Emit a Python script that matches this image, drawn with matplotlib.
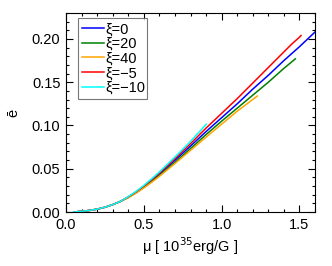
import matplotlib
matplotlib.use("Agg")
import matplotlib.pyplot as plt
from matplotlib.ticker import MultipleLocator, FormatStrFormatter

labels = ["ξ=0", "ξ=20", "ξ=40", "ξ=−5", "ξ=−10"]
colors = ["#0000ff", "#007f00", "#ffa500", "#ff0000", "#00ffff"]

x_low = [0.05, 0.1, 0.15, 0.2, 0.25, 0.3, 0.35]
y_low = [0.0, 0.0008, 0.0018, 0.0033, 0.0055, 0.0085, 0.0123]

x_xi0 = x_low + [0.4, 0.45, 0.5, 0.55, 0.6, 0.7, 0.8, 0.9, 1.0, 1.1, 1.2, 1.3, 1.4, 1.5, 1.6]
y_xi0 = y_low + [0.0172, 0.0228, 0.0293, 0.0363, 0.0438, 0.0598, 0.0762, 0.093, 0.109, 0.125, 0.142, 0.158, 0.175, 0.191, 0.208]

x_xi20 = x_low + [0.4, 0.45, 0.5, 0.55, 0.6, 0.7, 0.8, 0.9, 1.0, 1.1, 1.2, 1.3, 1.4, 1.474]
y_xi20 = y_low + [0.0168, 0.0222, 0.0284, 0.0351, 0.0422, 0.0574, 0.0733, 0.0895, 0.105, 0.120, 0.135, 0.150, 0.166, 0.177]

x_xi40 = x_low + [0.4, 0.45, 0.5, 0.55, 0.6, 0.7, 0.8, 0.9, 1.0, 1.1, 1.229]
y_xi40 = y_low + [0.0165, 0.0218, 0.0278, 0.0343, 0.0412, 0.056, 0.0712, 0.0865, 0.1015, 0.1165, 0.134]

x_xim5 = x_low + [0.4, 0.45, 0.5, 0.55, 0.6, 0.7, 0.8, 0.9, 1.0, 1.1, 1.2, 1.3, 1.4, 1.45, 1.5, 1.51]
y_xim5 = y_low + [0.0175, 0.0233, 0.030, 0.0373, 0.045, 0.0617, 0.079, 0.097, 0.114, 0.131, 0.149, 0.167, 0.185, 0.194, 0.202, 0.204]

x_xim10 = x_low + [0.4, 0.45, 0.5, 0.55, 0.6, 0.7, 0.8, 0.902]
y_xim10 = y_low + [0.0178, 0.0238, 0.0307, 0.0383, 0.0463, 0.0635, 0.0815, 0.1016]

xs = [x_xi0, x_xi20, x_xi40, x_xim5, x_xim10]
ys = [y_xi0, y_xi20, y_xi40, y_xim5, y_xim10]

plt.rcParams['font.family'] = ['Liberation Sans', 'DejaVu Sans']

W, H = 332, 266
fig = plt.figure(figsize=(W / 100, H / 100), dpi=100)
ax = fig.add_axes([66 / W, 1 - 212 / H, (315 - 66) / W, (212 - 13) / H])

for x, y, c, l in zip(xs, ys, colors, labels):
    ax.plot(x, y, color=c, lw=1.1, label=l)

ax.set_xlim(0, 1.6)
ax.set_ylim(0, 0.23)
ax.xaxis.set_major_locator(MultipleLocator(0.5))
ax.xaxis.set_minor_locator(MultipleLocator(0.1))
ax.yaxis.set_major_locator(MultipleLocator(0.05))
ax.yaxis.set_minor_locator(MultipleLocator(0.01))
ax.xaxis.set_major_formatter(FormatStrFormatter('%.1f'))
ax.yaxis.set_major_formatter(FormatStrFormatter('%.2f'))
ax.tick_params(which='both', direction='in', top=True, right=True, labelsize=10.5, width=0.8)
ax.tick_params(which='major', length=5, pad=4)
ax.tick_params(which='minor', length=2.5)
for s in ax.spines.values():
    s.set_linewidth(0.8)

ax.set_xlabel("μ [ 10$^{35}$erg/G ]", fontsize=10.5, labelpad=3)
ax.set_ylabel("ē", fontsize=10.5, labelpad=8)

x0, y0 = 78 / W, 1 - 18.5 / H
w, h = (146.5 - 78) / W, (99 - 18.5) / H
leg = ax.legend(loc='upper left', bbox_to_anchor=(x0, y0 - h, w, h),
                bbox_transform=fig.transFigure, mode='expand',
                fontsize=10.5, frameon=True, fancybox=False,
                handlelength=1.5, handletextpad=0.1, borderpad=0.25,
                labelspacing=0.05, borderaxespad=0.0)
leg.get_frame().set_edgecolor('#555555')
leg.get_frame().set_linewidth(0.8)

fig.savefig("out.png", dpi=100)
